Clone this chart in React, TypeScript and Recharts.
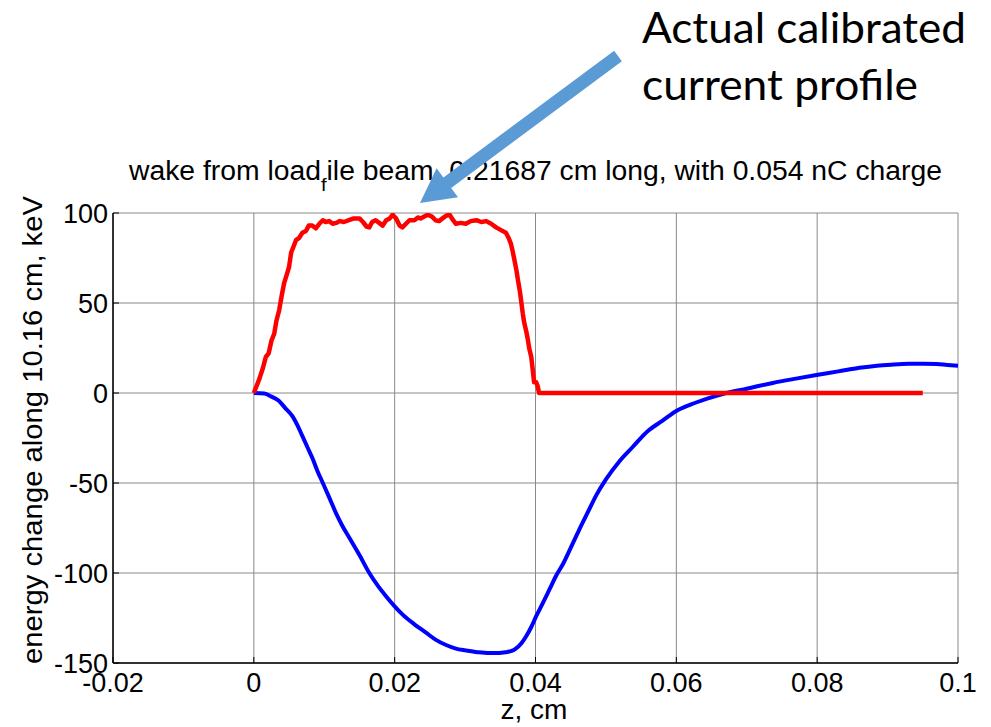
import React from "react";
import { LineChart, Line, XAxis, YAxis, CartesianGrid } from "recharts";

// Axis ticks
const zTicks = [-0.02, 0, 0.02, 0.04, 0.06, 0.08, 0.1];
const energyTicks = [-150, -100, -50, 0, 50, 100];

// Calibrated current profile (scaled to the energy axis)
const profileZ = [
  0, 0.0008, 0.0013, 0.0017, 0.0021, 0.0025, 0.0029, 0.0032, 0.0036, 0.004,
  0.0043, 0.0047, 0.005, 0.0053, 0.0056, 0.006, 0.0064, 0.0069, 0.0074, 0.0078,
  0.0083, 0.0088, 0.0093, 0.0098, 0.0102, 0.0107, 0.0112, 0.0117, 0.0122, 0.0128,
  0.0135, 0.0142, 0.015, 0.0155, 0.016, 0.0164, 0.0168, 0.0173, 0.0178, 0.0183,
  0.0188, 0.0193, 0.0197, 0.0202, 0.0207, 0.0211, 0.0216, 0.0221, 0.0228, 0.0233,
  0.0237, 0.0242, 0.0247, 0.0253, 0.0258, 0.0263, 0.0268, 0.0273, 0.0278, 0.0283,
  0.0287, 0.0294, 0.0301, 0.0308, 0.0316, 0.0323, 0.033, 0.0337, 0.0344, 0.0351,
  0.0358, 0.0362, 0.0365, 0.0368, 0.037, 0.0373, 0.0375, 0.0378, 0.038, 0.0382,
  0.0384, 0.0387, 0.0389, 0.0391, 0.0394, 0.0396, 0.0398, 0.0401, 0.0403, 0.0405,
  0.095,
];
const profileE = [
  0, 8, 14, 20, 22, 29, 33, 40, 46, 55,
  61, 66, 70, 78, 81, 85, 86, 89, 90, 93,
  93, 91.5, 94, 96, 95, 95.5, 94, 94.5, 95.5, 95,
  96, 97, 97, 95, 92.5, 92, 95, 96, 94.5, 93,
  96, 97, 99, 97, 93, 92, 94, 96, 96, 97.5,
  97, 98, 99, 98, 96, 95.5, 97, 98.5, 99, 96,
  94, 94.5, 94, 95.5, 96, 95, 95.5, 94, 92, 90.5,
  89, 86, 83, 78, 74, 68, 63, 56, 50, 44,
  39, 34, 30, 25, 20, 13, 6, 6, 4, 0,
  0,
];

// Wake potential: energy change along 10.16 cm, keV
const wakeZ = [
  0, 0.0015, 0.0025, 0.0035, 0.0045, 0.0055, 0.0062, 0.0069, 0.0076, 0.0083,
  0.009, 0.0098, 0.0107, 0.0117, 0.0126, 0.0135, 0.015, 0.0164, 0.0176, 0.0188,
  0.02, 0.0211, 0.0228, 0.0244, 0.0258, 0.0273, 0.0287, 0.0301, 0.0318, 0.0334,
  0.0348, 0.0358, 0.0366, 0.0372, 0.038, 0.0387, 0.0394, 0.0401, 0.041, 0.042,
  0.043, 0.0439, 0.045, 0.0462, 0.0474, 0.0486, 0.05, 0.0519, 0.0538, 0.056,
  0.058, 0.06, 0.062, 0.0645, 0.0671, 0.07, 0.0737, 0.077, 0.0799, 0.083,
  0.086, 0.0885, 0.0908, 0.093, 0.095, 0.097, 0.0985, 0.1,
];
const wakeE = [
  0, -0.3, -2, -4.2, -8.5, -13, -18, -24, -30, -36,
  -43, -50, -58, -67, -74, -80, -90, -100, -107, -113,
  -118.5, -123, -128.5, -133, -137, -140, -142, -143, -144, -144.5,
  -144.5, -144, -143.3, -142, -139, -135, -130, -124, -117, -109,
  -101, -95, -86, -76, -66.5, -57, -48, -38, -30, -21,
  -15.5, -10, -6.5, -3, 0, 2.4, 5.6, 8, 10, 12,
  14, 15.2, 15.8, 16.2, 16.3, 16.1, 15.6, 15.2,
];

const profileData = profileZ.map((z, i) => ({ z, e: profileE[i] }));
const wakeData = wakeZ.map((z, i) => ({ z, e: wakeE[i] }));

const FONT = "'Liberation Sans', Arial, Helvetica, sans-serif";

const ZTick = (props: any) => {
  const { x, y, payload } = props;
  return (
    <text x={x} y={y} dy="0.71em" textAnchor="middle" fontFamily={FONT} fontSize={27} fill="#000">
      {String(payload.value)}
    </text>
  );
};

const ETick = (props: any) => {
  const { x, y, payload } = props;
  return (
    <text x={x} y={y} dy="0.36em" textAnchor="end" fontFamily={FONT} fontSize={27} fill="#000">
      {String(payload.value)}
    </text>
  );
};

// Annotation arrow geometry (from tail to head tip)
const arrowTail = { x: 618, y: 56 };
const arrowTip = { x: 420, y: 203 };

function arrowPolygon() {
  const dx = arrowTip.x - arrowTail.x;
  const dy = arrowTip.y - arrowTail.y;
  const len = Math.hypot(dx, dy);
  const ux = dx / len, uy = dy / len;
  const nx = -uy, ny = ux;
  const shaftHalf = 6.5;
  const headLen = 34;
  const headHalf = 18;
  const bx = arrowTip.x - ux * headLen, by = arrowTip.y - uy * headLen;
  const pts = [
    [arrowTail.x + nx * shaftHalf, arrowTail.y + ny * shaftHalf],
    [bx + nx * shaftHalf, by + ny * shaftHalf],
    [bx + nx * headHalf, by + ny * headHalf],
    [arrowTip.x, arrowTip.y],
    [bx - nx * headHalf, by - ny * headHalf],
    [bx - nx * shaftHalf, by - ny * shaftHalf],
    [arrowTail.x - nx * shaftHalf, arrowTail.y - ny * shaftHalf],
  ];
  return pts.map((p) => p.join(",")).join(" ");
}

export default function App() {
  return (
    <div style={{ position: "absolute", left: 0, top: 0, width: 991, height: 727, background: "#fff" }}>
      <LineChart width={991} height={727} margin={{ top: 213, right: 33, bottom: 0, left: 0 }}>
        <CartesianGrid stroke="#8a8a8a" strokeWidth={1} />
        <XAxis
          type="number"
          dataKey="z"
          domain={[-0.02, 0.1]}
          ticks={zTicks}
          allowDataOverflow
          height={64}
          tickSize={-6}
          tickMargin={16}
          tickLine={{ stroke: "#000" }}
          axisLine={{ stroke: "#000", strokeWidth: 1.5 }}
          tick={<ZTick />}
        />
        <XAxis
          xAxisId="top"
          orientation="top"
          type="number"
          dataKey="z"
          domain={[-0.02, 0.1]}
          ticks={zTicks}
          allowDataOverflow
          height={0}
          tickSize={-6}
          tickLine={{ stroke: "#000" }}
          axisLine={{ stroke: "#000", strokeWidth: 1.5 }}
          tick={false}
        />
        <YAxis
          type="number"
          dataKey="e"
          domain={[-150, 100]}
          ticks={energyTicks}
          allowDataOverflow
          width={113}
          tickSize={-6}
          tickMargin={11}
          tickLine={{ stroke: "#000" }}
          axisLine={{ stroke: "#000", strokeWidth: 1.5 }}
          tick={<ETick />}
        />
        <YAxis
          yAxisId="right"
          orientation="right"
          type="number"
          domain={[-150, 100]}
          ticks={energyTicks}
          allowDataOverflow
          width={0}
          tickSize={-6}
          tickLine={{ stroke: "#000" }}
          axisLine={{ stroke: "#000", strokeWidth: 1.5 }}
          tick={false}
        />
        <Line
          data={wakeData}
          dataKey="e"
          type="monotoneX"
          stroke="#0000ff"
          strokeWidth={4}
          dot={false}
          isAnimationActive={false}
          strokeLinejoin="round"
        />
        <Line
          data={profileData}
          dataKey="e"
          type="linear"
          stroke="#ff0000"
          strokeWidth={4.5}
          dot={false}
          isAnimationActive={false}
          strokeLinejoin="round"
        />
      </LineChart>
      <svg
        width={991}
        height={727}
        style={{ position: "absolute", left: 0, top: 0, pointerEvents: "none" }}
      >
        <text x={129} y={180} fontFamily={FONT} fontSize={27} fill="#000" textLength={813} lengthAdjust="spacingAndGlyphs">
          wake from load
          <tspan fontSize={19} dy={11}>f</tspan>
          <tspan dy={-11}>ile beam, 0.21687 cm long, with 0.054 nC charge</tspan>
        </text>
        <text
          x={42}
          y={430}
          transform="rotate(-90, 42, 430)"
          textAnchor="middle"
          fontFamily={FONT}
          fontSize={28}
          fill="#000"
          textLength={468}
          lengthAdjust="spacingAndGlyphs"
        >
          energy change along 10.16 cm, keV
        </text>
        <text x={534} y={719} textAnchor="middle" fontFamily={FONT} fontSize={28} fill="#000">
          z, cm
        </text>
        <polygon points={arrowPolygon()} fill="#5b9bd5" />
        <text x={642} y={43} fontFamily="Lato, 'Open Sans', sans-serif" fontSize={42} fill="#000" textLength={324} lengthAdjust="spacingAndGlyphs">
          Actual calibrated
        </text>
        <text x={642} y={100} fontFamily="Lato, 'Open Sans', sans-serif" fontSize={42} fill="#000" textLength={276} lengthAdjust="spacingAndGlyphs">
          current profile
        </text>
      </svg>
    </div>
  );
}
